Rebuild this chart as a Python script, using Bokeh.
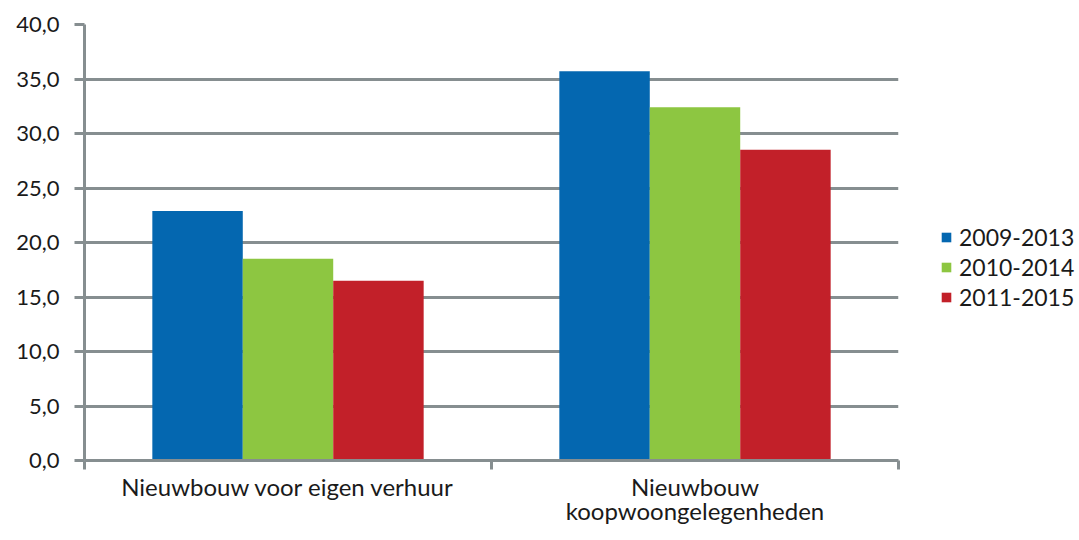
from bokeh.plotting import figure
from bokeh.models import Range1d, FixedTicker, Legend, LegendItem, ColumnDataSource
from bokeh.embed import file_html
from bokeh.resources import INLINE

categories = ["Nieuwbouw voor eigen verhuur", "Nieuwbouw\nkoopwoongelegenheden"]
series = ["2009-2013", "2010-2014", "2011-2015"]
values_2009_2013 = [22.9, 35.7]
values_2010_2014 = [18.5, 32.4]
values_2011_2015 = [16.5, 28.5]
colors = ["#0467B0", "#8DC641", "#C22029"]
y_ticks = [0, 5, 10, 15, 20, 25, 30, 35, 40]
y_tick_labels = ["0,0", "5,0", "10,0", "15,0", "20,0", "25,0", "30,0", "35,0", "40,0"]

FONT = "Lato"
GRID = "#868E90"
TXT = "#1a1a1a"

p = figure(frame_width=814, frame_height=436, output_backend="svg", toolbar_location=None,
           x_range=Range1d(0, len(categories)), y_range=Range1d(0, 40),
           min_border_left=84, min_border_right=0, min_border_top=24,
           min_border_bottom=78)
p.outline_line_color = None
p.background_fill_color = "white"

bar_w = 2.0 / 9.0
all_values = [values_2009_2013, values_2010_2014, values_2011_2015]
items = []
for k, (name, vals, col) in enumerate(zip(series, all_values, colors)):
    xs = [i + 0.5 + (k - 1) * bar_w for i in range(len(categories))]
    src = ColumnDataSource(dict(x=xs, top=vals))
    r = p.vbar(x="x", top="top", bottom=0, width=bar_w, source=src,
               fill_color=col, line_color=None)
    items.append(LegendItem(label=name, renderers=[r]))

# Y axis
p.yaxis.ticker = FixedTicker(ticks=y_ticks)
p.yaxis.major_label_overrides = {t: l for t, l in zip(y_ticks, y_tick_labels)}
p.yaxis.axis_line_color = GRID
p.yaxis.axis_line_width = 3
p.yaxis.major_tick_line_color = GRID
p.yaxis.major_tick_line_width = 3
p.yaxis.major_tick_out = 10
p.yaxis.major_tick_in = 0
p.yaxis.minor_tick_line_color = None
p.yaxis.major_label_text_font = FONT
p.yaxis.major_label_text_font_size = "22px"
p.yaxis.major_label_text_color = TXT
p.yaxis.major_label_standoff = 15

# X axis: labels at category centres, tick marks at boundaries
centres = [i + 0.5 for i in range(len(categories))]
bounds = [i for i in range(len(categories) + 1)]
p.xaxis.ticker = FixedTicker(ticks=centres, minor_ticks=bounds)
p.xaxis.major_label_overrides = {c: l for c, l in zip(centres, categories)}
p.xaxis.axis_line_color = GRID
p.xaxis.axis_line_width = 3
p.xaxis.major_tick_line_color = None
p.xaxis.minor_tick_line_color = GRID
p.xaxis.minor_tick_line_width = 3
p.xaxis.minor_tick_out = 9
p.xaxis.minor_tick_in = 0
p.xaxis.major_tick_out = 9
p.xaxis.major_tick_in = 0
p.xaxis.major_label_text_font = FONT
p.xaxis.major_label_text_font_size = "24px"
p.xaxis.major_label_text_line_height = 0.85
p.xaxis.major_label_text_color = TXT
p.xaxis.major_label_standoff = 2

p.xgrid.grid_line_color = None
p.ygrid.ticker = FixedTicker(ticks=y_ticks)
p.ygrid.grid_line_color = GRID
p.ygrid.grid_line_width = 3

legend = Legend(items=items, location=(42, 149), padding=0, margin=0,
                border_line_color=None, background_fill_alpha=0,
                glyph_width=12, glyph_height=12, label_standoff=7,
                label_text_font=FONT, label_text_font_size="23px",
                label_text_color=TXT, spacing=2, label_height=26)
p.add_layout(legend, "right")

open("out.html", "w").write(file_html(p, INLINE))
